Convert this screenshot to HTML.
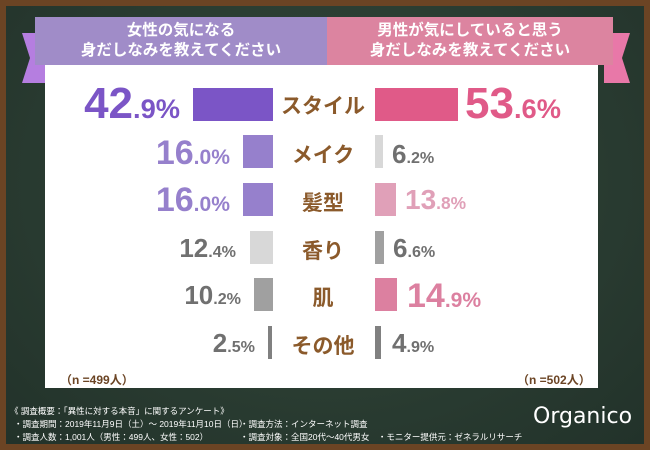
<!DOCTYPE html>
<html><head><meta charset="utf-8"><style>
*{margin:0;padding:0;box-sizing:border-box}
body{width:650px;height:450px;overflow:hidden;font-family:"Liberation Sans","Noto Sans CJK JP",sans-serif}
.frame{position:absolute;left:0;top:0;width:650px;height:450px;background:#6b4424}
.board{position:absolute;left:6px;top:6px;width:638px;height:438px;background:radial-gradient(ellipse at 50% 40%,#34493b,#22322a)}
.tail{position:absolute;top:33px;width:26px;height:50px}
.hdr{position:absolute;top:17px;height:48px;color:#fff;font-weight:bold;font-size:15.5px;line-height:20px;text-align:center;padding-top:4px}
.panel{position:absolute;left:45px;top:65px;width:553px;height:323px;background:#fff}
.bar{position:absolute}
.lbl{position:absolute;width:100px;left:273px;text-align:center;color:#8b5a2b;font-weight:bold;font-size:21px}
.num{position:absolute;font-weight:bold;white-space:nowrap;line-height:1}
.num small{font-size:0.62em}
.n{position:absolute;color:#6b4424;font-weight:bold;font-size:12px;top:371px}
.foot{position:absolute;color:#fff;font-size:8.5px;white-space:nowrap}
</style></head><body>
<div class="frame"></div><div class="board"></div>
<div class="tail" style="left:22px;background:#b57ee0;clip-path:polygon(0 0,100% 0,100% 100%,0 100%,8px 50%)"></div>
<div class="tail" style="left:604px;background:#e878a8;clip-path:polygon(0 0,100% 0,calc(100% - 8px) 50%,100% 100%,0 100%)"></div>
<div class="hdr" style="left:35px;width:292px;background:#a08cc8">女性の気になる<br>身だしなみを教えてください</div>
<div class="hdr" style="left:327px;width:286px;background:#dc84a0">男性が気にしていると思う<br>身だしなみを教えてください</div>
<div class="panel"></div>

<div class="bar" style="left:193px;top:88px;width:80px;height:33px;background:#7b55c6"></div>
<div class="bar" style="left:375px;top:88px;width:83px;height:33px;background:#e05a88"></div>
<div class="bar" style="left:243px;top:135px;width:30px;height:33px;background:#9680cc"></div>
<div class="bar" style="left:375px;top:135px;width:8px;height:33px;background:#d8d8d8"></div>
<div class="bar" style="left:243px;top:183px;width:30px;height:33px;background:#9680cc"></div>
<div class="bar" style="left:375px;top:183px;width:21px;height:33px;background:#e0a0b8"></div>
<div class="bar" style="left:250px;top:231px;width:23px;height:33px;background:#d8d8d8"></div>
<div class="bar" style="left:375px;top:231px;width:9px;height:33px;background:#a0a0a0"></div>
<div class="bar" style="left:254px;top:278px;width:19px;height:33px;background:#a0a0a0"></div>
<div class="bar" style="left:375px;top:278px;width:22px;height:33px;background:#dc80a0"></div>
<div class="bar" style="left:268px;top:326px;width:4px;height:33px;background:#808080"></div>
<div class="bar" style="left:375px;top:326px;width:6px;height:33px;background:#808080"></div>

<div class="lbl" style="top:90px">スタイル</div>
<div class="lbl" style="top:139px">メイク</div>
<div class="lbl" style="top:187px">髪型</div>
<div class="lbl" style="top:235px">香り</div>
<div class="lbl" style="top:282px">肌</div>
<div class="lbl" style="top:330px">その他</div>

<div class="num" style="right:470px;top:82px;font-size:44px;color:#7b55c6">42<small>.9%</small></div>
<div class="num" style="left:465px;top:82px;font-size:44px;color:#e05a88">53<small>.6%</small></div>
<div class="num" style="right:420px;top:136px;font-size:34px;color:#9680cc">16<small>.0%</small></div>
<div class="num" style="left:392px;top:141px;font-size:26px;color:#707070">6<small>.2%</small></div>
<div class="num" style="right:420px;top:183px;font-size:34px;color:#9680cc">16<small>.0%</small></div>
<div class="num" style="left:405px;top:186px;font-size:28px;color:#e0a0b8">13<small>.8%</small></div>
<div class="num" style="right:414px;top:235px;font-size:26px;color:#707070">12<small>.4%</small></div>
<div class="num" style="left:393px;top:235px;font-size:26px;color:#707070">6<small>.6%</small></div>
<div class="num" style="right:409px;top:282px;font-size:26px;color:#707070">10<small>.2%</small></div>
<div class="num" style="left:407px;top:279px;font-size:34px;color:#dc80a0">14<small>.9%</small></div>
<div class="num" style="right:395px;top:330px;font-size:26px;color:#707070">2<small>.5%</small></div>
<div class="num" style="left:392px;top:330px;font-size:26px;color:#707070">4<small>.9%</small></div>

<div class="n" style="left:60px">（n =499人）</div>
<div class="n" style="left:517px">（n =502人）</div>

<div class="foot" style="left:10px;top:405px">《 調査概要：「異性に対する本音」に関するアンケート》</div>
<div class="foot" style="left:14px;top:418px">・調査期間：2019年11月9日（土）～ 2019年11月10日（日）</div>
<div class="foot" style="left:14px;top:431px">・調査人数：1,001人（男性：499人、女性：502）</div>
<div class="foot" style="left:240px;top:418px">・調査方法：インターネット調査</div>
<div class="foot" style="left:240px;top:431px">・調査対象：全国20代～40代男女　・モニター提供元：ゼネラルリサーチ</div>
<div class="foot" style="left:533px;top:404px;font-size:22px;font-family:'DejaVu Sans',sans-serif">Organico</div>
</body></html>
